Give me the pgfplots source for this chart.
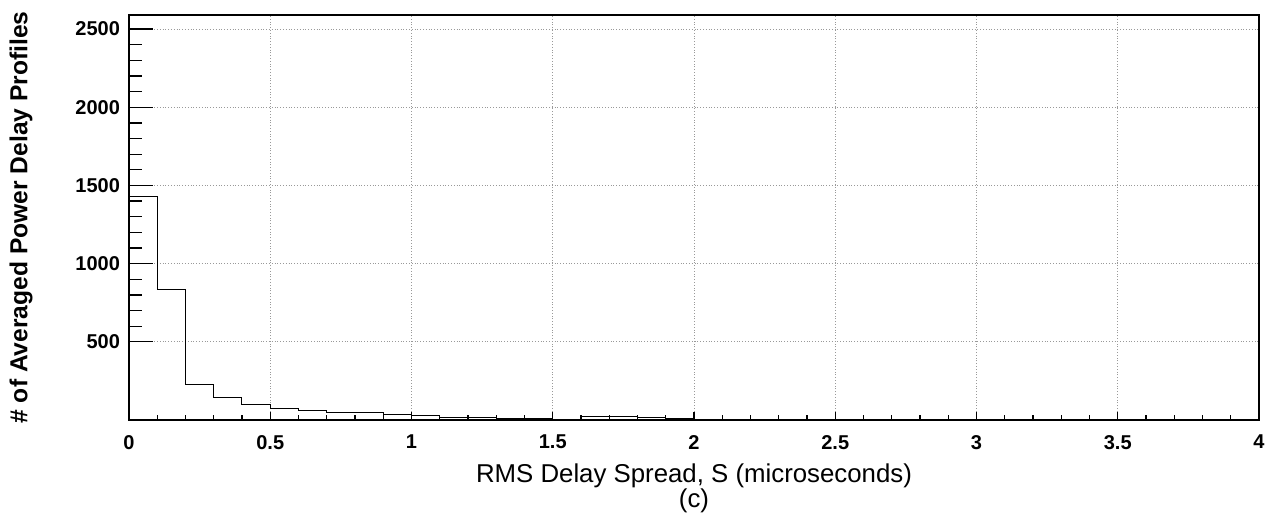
\documentclass[border=0pt]{standalone}
\usepackage{pgfplots}
\pgfplotsset{compat=1.18}
\usepackage{fontspec}
\setmainfont{Liberation Sans}
\begin{document}
\begin{tikzpicture}
\useasboundingbox (-64.5pt,-53pt) rectangle (577.5pt,210pt);
\begin{axis}[
  at={(0,0)}, anchor=south west,
  scale only axis, width=565pt, height=202.5pt,
  xmin=0, xmax=4, ymin=0, ymax=2590,
  xtick={0,0.5,...,4}, ytick={500,1000,1500,2000,2500},
  xticklabels={0,0.5,1,1.5,2,2.5,3,3.5,4},
  minor x tick num=4, minor y tick num=4,
  tick align=inside, xtick pos=bottom, ytick pos=left,
  major tick length=4pt, minor tick length=2.5pt,
  y tick style={/pgfplots/major tick length=12pt, /pgfplots/minor tick length=6.5pt},
  tick style={black, line width=0.6pt},
  /pgf/number format/assume math mode=true,
  /pgf/number format/1000 sep={},
  ticklabel style={font=\fontsize{10}{12}\selectfont\bfseries},
  scaled y ticks=false,
  yticklabel style={xshift=-1pt},
  xticklabel style={yshift=-4pt},
  grid=major,
  major grid style={densely dotted, gray!80, line width=0.4pt},
  axis line style={black, line width=1.4pt},
  xlabel={RMS Delay Spread, S (microseconds)\\(c)},
  xlabel style={font=\fontsize{12.9}{12.5}\selectfont, align=center, at={(axis description cs:0.5,0)}, anchor=north, yshift=-18.5pt},
  ylabel={\# of Averaged Power Delay Profiles},
  ylabel style={font=\fontsize{12.3}{14}\selectfont\bfseries, at={(axis description cs:-0.0956,0.5)}, anchor=center},
]
\addplot[const plot, black, line width=0.5pt] coordinates {
(0,1430) (0.1,835) (0.2,228) (0.3,143) (0.4,96) (0.5,72) (0.6,59) (0.7,51)
(0.8,45) (0.9,34) (1.0,30) (1.1,19) (1.2,15) (1.3,12) (1.4,10) (1.5,5)
(1.6,25) (1.7,25) (1.8,15) (1.9,10) (2.0,4) (2.1,3) (2.2,2) (2.3,2)
(2.4,1) (2.5,1) (2.6,0) (4.0,0)
};
\end{axis}
\end{tikzpicture}
\end{document}
